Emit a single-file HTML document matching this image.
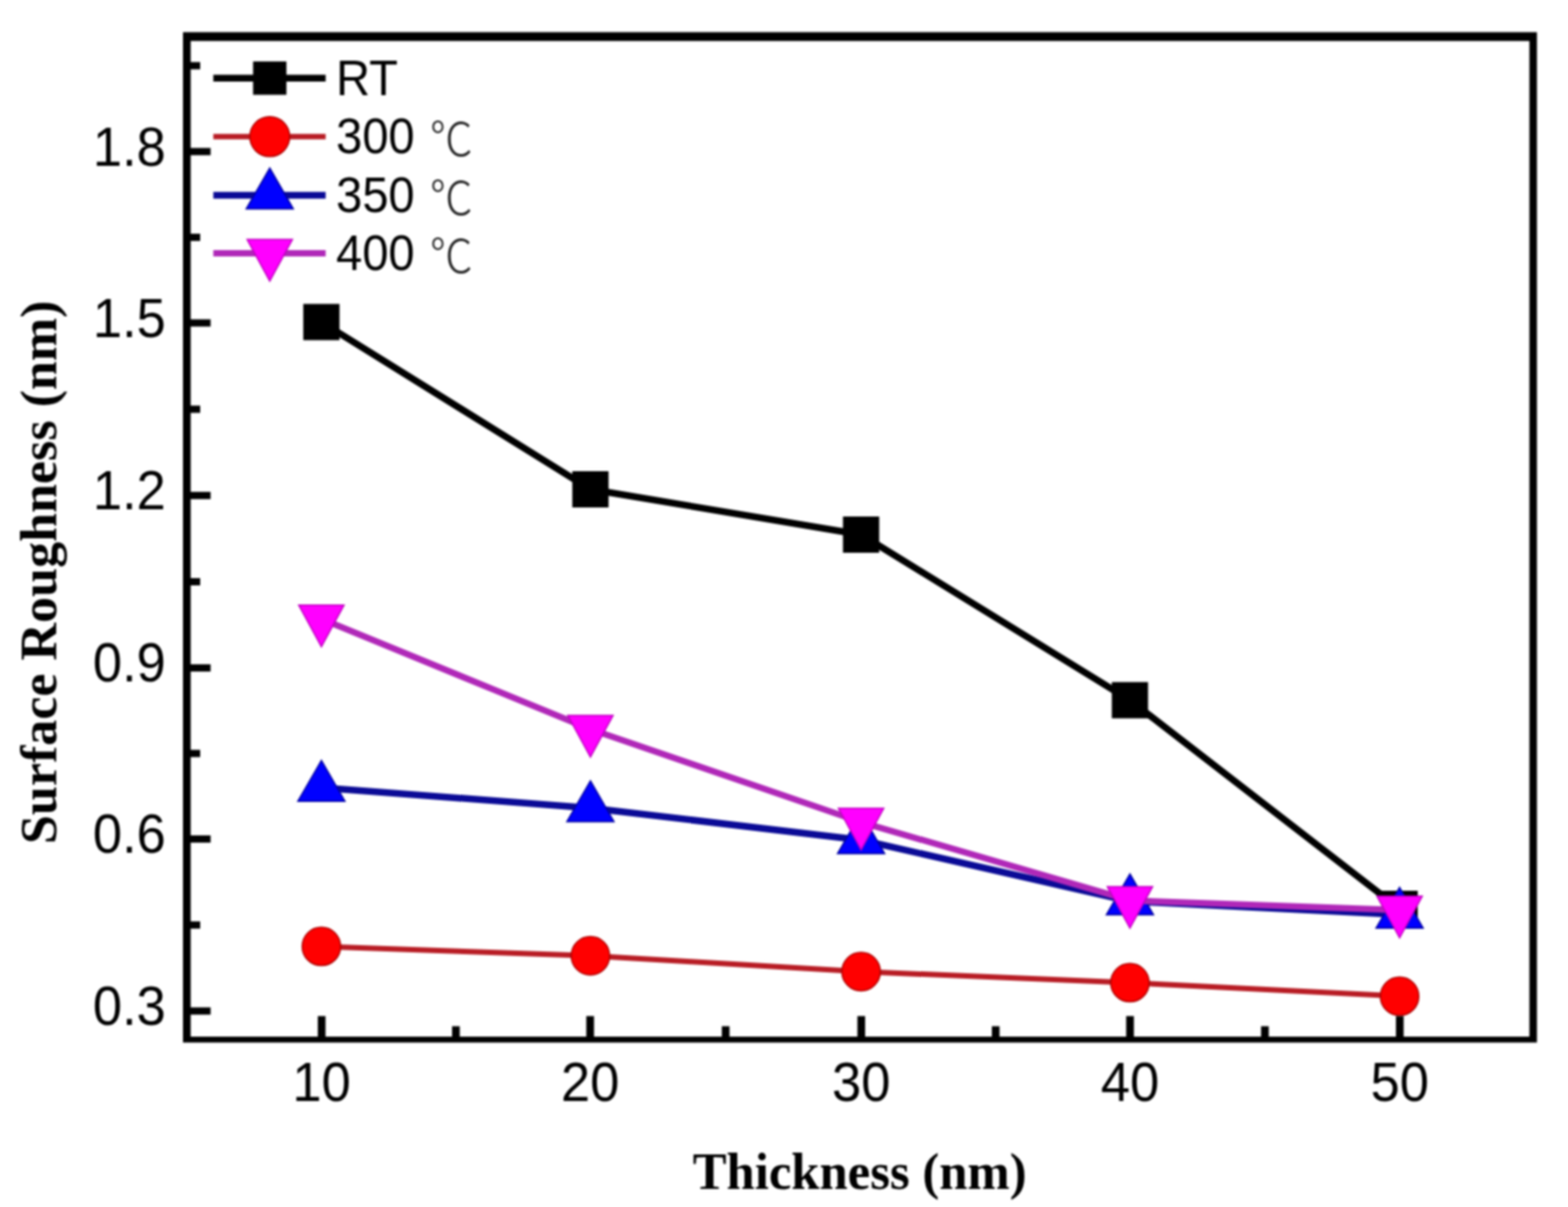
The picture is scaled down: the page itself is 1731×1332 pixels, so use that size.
<!DOCTYPE html>
<html><head><meta charset="utf-8"><title>Surface Roughness vs Thickness</title>
<style>
html,body{margin:0;padding:0;background:#fff;}
body{width:1731px;height:1332px;overflow:hidden;}
svg{display:block;}
#w{filter:blur(0.8px);width:1731px;height:1332px;}
.tl{font-family:"Liberation Sans",Arial,sans-serif;font-size:58px;fill:#000;}
.lg{font-family:"Liberation Sans",Arial,sans-serif;font-size:52px;fill:#000;}
.dc{font-family:"Liberation Sans","Noto Sans CJK SC",sans-serif;font-weight:300;font-size:50px;fill:#222;}
.at{font-family:"Liberation Serif","Times New Roman",serif;font-weight:bold;font-size:56px;fill:#000;}
</style></head>
<body>
<div id="w">
<svg width="1731" height="1332" viewBox="0 0 1731 1332">
<rect width="1731" height="1332" fill="#fff"/>
<path d="M202.0,35.4H1696.7V1150.5H202.0Z M210.5,45.2V1144H1688.4V45.2Z" fill="#000" fill-rule="evenodd"/>
<line x1="206.3" y1="167.3" x2="232.5" y2="167.3" stroke="#000" stroke-width="8"/>
<line x1="206.3" y1="356.4" x2="232.5" y2="356.4" stroke="#000" stroke-width="8"/>
<line x1="206.3" y1="546.8" x2="232.5" y2="546.8" stroke="#000" stroke-width="8"/>
<line x1="206.3" y1="737.1" x2="232.5" y2="737.1" stroke="#000" stroke-width="8"/>
<line x1="206.3" y1="925.9" x2="232.5" y2="925.9" stroke="#000" stroke-width="8"/>
<line x1="206.3" y1="1115.7" x2="232.5" y2="1115.7" stroke="#000" stroke-width="8"/>
<line x1="206.3" y1="261.9" x2="221" y2="261.9" stroke="#000" stroke-width="8"/>
<line x1="206.3" y1="451.6" x2="221" y2="451.6" stroke="#000" stroke-width="8"/>
<line x1="206.3" y1="642.0" x2="221" y2="642.0" stroke="#000" stroke-width="8"/>
<line x1="206.3" y1="831.5" x2="221" y2="831.5" stroke="#000" stroke-width="8"/>
<line x1="206.3" y1="1020.8" x2="221" y2="1020.8" stroke="#000" stroke-width="8"/>
<line x1="206.3" y1="72.5" x2="221" y2="72.5" stroke="#000" stroke-width="8"/>
<line x1="355.1" y1="1147.2" x2="355.1" y2="1121.3" stroke="#000" stroke-width="8.5"/>
<line x1="651.5" y1="1147.2" x2="651.5" y2="1121.3" stroke="#000" stroke-width="8.5"/>
<line x1="950.8" y1="1147.2" x2="950.8" y2="1121.3" stroke="#000" stroke-width="8.5"/>
<line x1="1247.5" y1="1147.2" x2="1247.5" y2="1121.3" stroke="#000" stroke-width="8.5"/>
<line x1="1545.3" y1="1147.2" x2="1545.3" y2="1121.3" stroke="#000" stroke-width="8.5"/>
<line x1="503.3" y1="1147.2" x2="503.3" y2="1132.5" stroke="#000" stroke-width="8.5"/>
<line x1="801.1" y1="1147.2" x2="801.1" y2="1132.5" stroke="#000" stroke-width="8.5"/>
<line x1="1099.2" y1="1147.2" x2="1099.2" y2="1132.5" stroke="#000" stroke-width="8.5"/>
<line x1="1396.4" y1="1147.2" x2="1396.4" y2="1132.5" stroke="#000" stroke-width="8.5"/>
<text transform="translate(183,182.6) scale(1,1.05)" class="tl" text-anchor="end">1.8</text>
<text transform="translate(183,371.7) scale(1,1.05)" class="tl" text-anchor="end">1.5</text>
<text transform="translate(183,562.1) scale(1,1.05)" class="tl" text-anchor="end">1.2</text>
<text transform="translate(183,752.4) scale(1,1.05)" class="tl" text-anchor="end">0.9</text>
<text transform="translate(183,941.2) scale(1,1.05)" class="tl" text-anchor="end">0.6</text>
<text transform="translate(183,1131.0) scale(1,1.05)" class="tl" text-anchor="end">0.3</text>
<text transform="translate(355.1,1215) scale(1,1.05)" class="tl" text-anchor="middle">10</text>
<text transform="translate(651.5,1215) scale(1,1.05)" class="tl" text-anchor="middle">20</text>
<text transform="translate(950.8,1215) scale(1,1.05)" class="tl" text-anchor="middle">30</text>
<text transform="translate(1247.5,1215) scale(1,1.05)" class="tl" text-anchor="middle">40</text>
<text transform="translate(1545.3,1215) scale(1,1.05)" class="tl" text-anchor="middle">50</text>
<text transform="translate(949,1311.5) scale(1,1.03)" class="at" text-anchor="middle">Thickness (nm)</text>
<text transform="translate(61.8,631.5) rotate(-90)" x="0" y="0" class="at" text-anchor="middle" textLength="600" lengthAdjust="spacingAndGlyphs">Surface Roughness (nm)</text>
<polyline points="354.8,355.4 651.8,540.0 950.6,590.0 1247.4,772.7 1545.1,1003.0" fill="none" stroke="#000" stroke-width="7.5" stroke-linejoin="round"/>
<rect x="334.8" y="335.4" width="40.0" height="40.0" fill="#000"/>
<rect x="631.8" y="520.0" width="40.0" height="40.0" fill="#000"/>
<rect x="930.6" y="570.0" width="40.0" height="40.0" fill="#000"/>
<rect x="1227.4" y="752.7" width="40.0" height="40.0" fill="#000"/>
<rect x="1525.1" y="983.0" width="40.0" height="40.0" fill="#000"/>
<polyline points="354.8,1044.4 651.8,1054.8 950.6,1072.3 1247.4,1084.4 1545.1,1099.4" fill="none" stroke="#b81c24" stroke-width="6" stroke-linejoin="round"/>
<circle cx="354.8" cy="1044.4" r="21.2" fill="#ff0000" stroke="#b00000" stroke-width="1.5"/>
<circle cx="651.8" cy="1054.8" r="21.2" fill="#ff0000" stroke="#b00000" stroke-width="1.5"/>
<circle cx="950.6" cy="1072.3" r="21.2" fill="#ff0000" stroke="#b00000" stroke-width="1.5"/>
<circle cx="1247.4" cy="1084.4" r="21.2" fill="#ff0000" stroke="#b00000" stroke-width="1.5"/>
<circle cx="1545.1" cy="1099.4" r="21.2" fill="#ff0000" stroke="#b00000" stroke-width="1.5"/>
<polyline points="354.8,869.2 651.8,891.7 950.6,927.0 1247.4,994.5 1545.1,1009.3" fill="none" stroke="#0a0a96" stroke-width="7.5" stroke-linejoin="round"/>
<polygon points="354.8,839.2 380.8,884.2 328.8,884.2" fill="#0000ff" stroke="#0000a0" stroke-width="1.5" stroke-linejoin="miter"/>
<polygon points="651.8,861.7 677.8,906.7 625.8,906.7" fill="#0000ff" stroke="#0000a0" stroke-width="1.5" stroke-linejoin="miter"/>
<polygon points="950.6,897.0 976.6,942.0 924.6,942.0" fill="#0000ff" stroke="#0000a0" stroke-width="1.5" stroke-linejoin="miter"/>
<polygon points="1247.4,964.5 1273.4,1009.5 1221.4,1009.5" fill="#0000ff" stroke="#0000a0" stroke-width="1.5" stroke-linejoin="miter"/>
<polygon points="1545.1,979.3 1571.1,1024.3 1519.1,1024.3" fill="#0000ff" stroke="#0000a0" stroke-width="1.5" stroke-linejoin="miter"/>
<polyline points="354.8,683.0 651.8,804.8 950.6,907.3 1247.4,993.7 1545.1,1004.4" fill="none" stroke="#b028b8" stroke-width="7" stroke-linejoin="round"/>
<polygon points="329.8,667.7 379.8,667.7 354.8,713.6" fill="#ff00ff" stroke="#c000c0" stroke-width="1.5"/>
<polygon points="626.8,789.5 676.8,789.5 651.8,835.4" fill="#ff00ff" stroke="#c000c0" stroke-width="1.5"/>
<polygon points="925.6,892.0 975.6,892.0 950.6,937.9" fill="#ff00ff" stroke="#c000c0" stroke-width="1.5"/>
<polygon points="1222.4,978.4 1272.4,978.4 1247.4,1024.3" fill="#ff00ff" stroke="#c000c0" stroke-width="1.5"/>
<polygon points="1520.1,989.1 1570.1,989.1 1545.1,1035.0" fill="#ff00ff" stroke="#c000c0" stroke-width="1.5"/>
<line x1="235.5" y1="86.2" x2="359.5" y2="86.2" stroke="#000" stroke-width="7.5"/>
<rect x="279.4" y="67.8" width="36.8" height="36.8" fill="#000"/>
<text transform="translate(371,104.7) scale(1,1.05)" class="lg">RT</text>
<line x1="235.5" y1="150.8" x2="359.5" y2="150.8" stroke="#b81c24" stroke-width="6"/>
<circle cx="297.8" cy="150.8" r="22.0" fill="#ff0000" stroke="#b00000" stroke-width="1.5"/>
<text transform="translate(371,169.3) scale(1,1.05)" class="lg">300</text>
<text transform="translate(474.5,172.3) scale(0.95,1.03)" class="dc">&#8451;</text>
<line x1="235.5" y1="215.5" x2="359.5" y2="215.5" stroke="#0a0a96" stroke-width="7.5"/>
<polygon points="297.8,185.5 323.8,230.5 271.8,230.5" fill="#0000ff" stroke="#0000a0" stroke-width="1.5" stroke-linejoin="miter"/>
<text transform="translate(371,234.0) scale(1,1.05)" class="lg">350</text>
<text transform="translate(474.5,237.0) scale(0.95,1.03)" class="dc">&#8451;</text>
<line x1="235.5" y1="279.6" x2="359.5" y2="279.6" stroke="#b028b8" stroke-width="7"/>
<polygon points="272.8,264.3 322.8,264.3 297.8,310.2" fill="#ff00ff" stroke="#c000c0" stroke-width="1.5"/>
<text transform="translate(371,298.1) scale(1,1.05)" class="lg">400</text>
<text transform="translate(474.5,301.1) scale(0.95,1.03)" class="dc">&#8451;</text>
</svg>
</div>
</body></html>
